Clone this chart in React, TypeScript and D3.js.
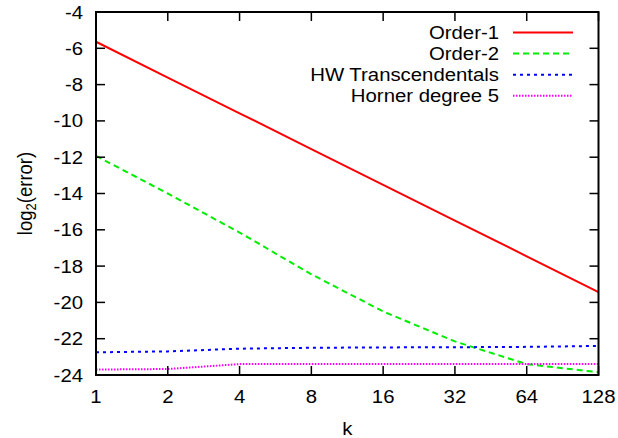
import React from "react";
import * as d3 from "d3";

const ks = [1, 2, 4, 8, 16, 32, 64, 128];
const order1 = [-5.64, -7.61, -9.58, -11.55, -13.52, -15.49, -17.46, -19.43];
const order2 = [-11.93, -14.0, -16.15, -18.45, -20.5, -22.15, -23.4, -23.85];
const hwTrans = [-22.75, -22.7, -22.55, -22.5, -22.48, -22.47, -22.45, -22.4];
const horner5 = [-23.7, -23.67, -23.4, -23.4, -23.4, -23.4, -23.4, -23.4];
const yTicks = [-4, -6, -8, -10, -12, -14, -16, -18, -20, -22, -24];

const series = [
  { name: "Order-1", values: order1, color: "#ff0000", dash: "none" },
  { name: "Order-2", values: order2, color: "#00ee00", dash: "6,4" },
  { name: "HW Transcendentals", values: hwTrans, color: "#0000ff", dash: "3,4" },
  { name: "Horner degree 5", values: horner5, color: "#ff00ff", dash: "1.5,1.5" },
];

const FONT = "'Liberation Sans', Arial, Helvetica, sans-serif";

// text in the source is a bit wider than plain Helvetica, stretch it sideways
function Label(props: { x: number; y: number; anchor?: string; children: React.ReactNode }) {
  return (
    <text transform={`translate(${props.x},${props.y}) scale(1.1,1)`}
      textAnchor={props.anchor || "start"} fontSize={18.5}>
      {props.children}
    </text>
  );
}

export default function App() {
  const W = 618, H = 438;
  const left = 96, right = 598.5, top = 12, bottom = 375;
  const x = d3.scaleLog().base(2).domain([1, 128]).range([left, right]);
  const y = d3.scaleLinear().domain([-24, -4]).range([bottom, top]);
  const line = d3.line<number>()
    .x((_, i) => x(ks[i]))
    .y((d) => y(d));
  const tl = 9;

  return (
    <svg width={W} height={H} style={{ position: "absolute", left: 0, top: 0 }}
      fontFamily={FONT}>
      <rect width={W} height={H} fill="white" />
      {series.map((s) => (
        <path key={s.name} d={line(s.values) || ""} fill="none" stroke={s.color}
          strokeWidth={2} strokeDasharray={s.dash} />
      ))}
      {ks.map((k) => (
        <g key={"x" + k}>
          <line x1={x(k)} x2={x(k)} y1={bottom} y2={bottom - tl} stroke="black" strokeWidth={1.5} />
          <line x1={x(k)} x2={x(k)} y1={top} y2={top + tl} stroke="black" strokeWidth={1.5} />
          <Label x={x(k)} y={403} anchor="middle">{k}</Label>
        </g>
      ))}
      {yTicks.map((v) => (
        <g key={"y" + v}>
          <line x1={left} x2={left + tl} y1={y(v)} y2={y(v)} stroke="black" strokeWidth={1.5} />
          <line x1={right} x2={right - tl} y1={y(v)} y2={y(v)} stroke="black" strokeWidth={1.5} />
          <Label x={83} y={y(v) + 6.5} anchor="end">{v}</Label>
        </g>
      ))}
      <rect x={left} y={top} width={right - left} height={bottom - top}
        fill="none" stroke="black" strokeWidth={2} />
      {series.map((s, i) => {
        const ly = 32.5 + i * 21.1;
        return (
          <g key={"lg" + s.name}>
            <Label x={499} y={ly + 6.6} anchor="end">{s.name}</Label>
            <line x1={513} x2={573} y1={ly} y2={ly} stroke={s.color}
              strokeWidth={2} strokeDasharray={s.dash} />
          </g>
        );
      })}
      <Label x={(left + right) / 2} y={435} anchor="middle">k</Label>
      <text transform={`translate(32,${(top + bottom) / 2}) rotate(-90) scale(1,1.1)`}
        textAnchor="middle" fontSize={18.5}>
        log<tspan fontSize={13} dy={4}>2</tspan><tspan dy={-4}>(error)</tspan>
      </text>
    </svg>
  );
}
